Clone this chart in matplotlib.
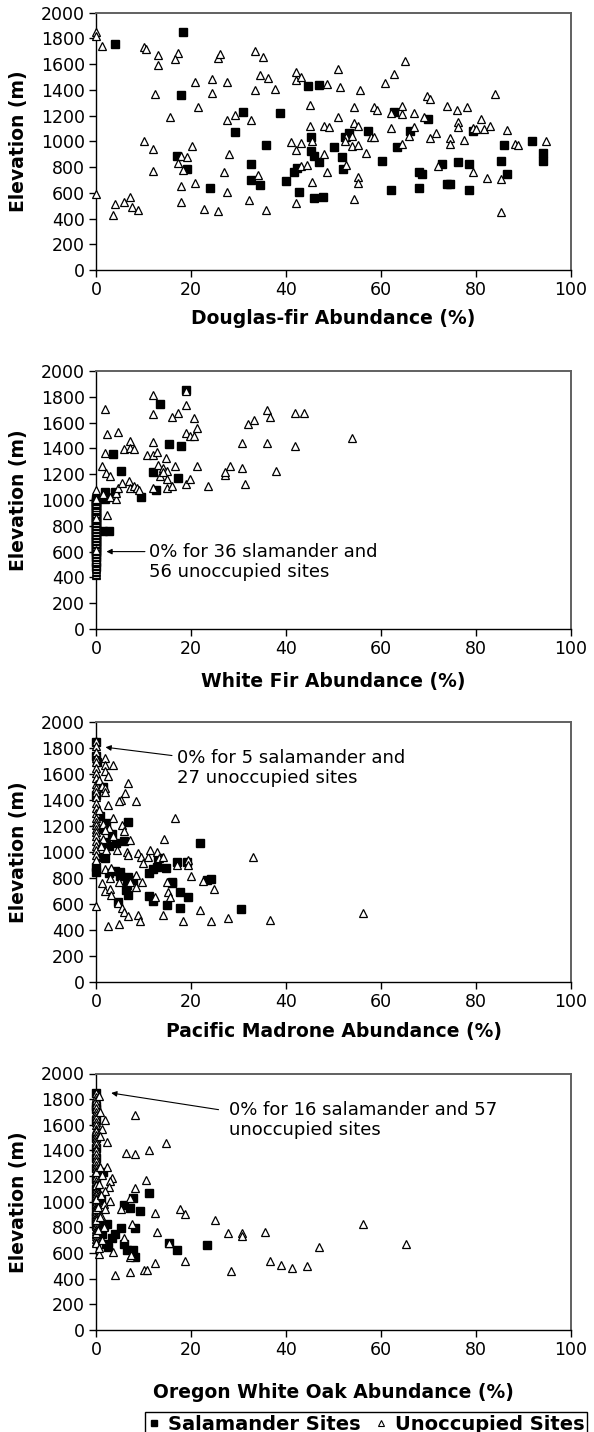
import matplotlib.pyplot as plt
from matplotlib.lines import Line2D

plt.rcParams['font.family'] = ['DejaVu Sans']

# ---- Douglas-fir (panel 1) ----
df_sal_x = [4.1, 18.4, 17.9, 17.0, 19.1, 23.9, 30.9, 29.2, 32.7, 32.7, 34.5, 35.8, 38.7, 39.9,
            41.6, 42.3, 42.8, 44.7, 47.0, 45.3, 45.3, 45.9, 47.0, 47.7, 45.9, 50.0, 51.7, 51.9,
            52.5, 53.2, 57.2, 60.3, 62.1, 62.7, 63.4, 66.2, 69.9, 68.1, 68.6, 68.1, 72.9, 73.9,
            74.5, 76.3, 78.6, 78.6, 79.4, 85.2, 85.9, 86.6, 91.8, 94.1, 94.1]
df_sal_y = [1753, 1852, 1358, 883, 787, 636, 1229, 1070, 826, 696, 662, 969, 1221, 694,
            764, 790, 605, 1429, 1436, 1034, 927, 888, 842, 566, 558, 956, 878, 783,
            1030, 1064, 1084, 848, 623, 1227, 955, 1084, 1172, 760, 745, 636, 822, 667,
            672, 838, 825, 623, 1084, 848, 970, 747, 1004, 908, 851]
df_uno_x = [0, 0, 1.3, 0, 3.6, 4.1, 5.9, 7.1, 7.6, 8.8, 10.1, 10.6, 13.1, 13.1, 12.4, 10.1,
            12.0, 12.0, 15.5, 17.2, 16.6, 17.9, 17.2, 19.2, 18.4, 17.9, 17.9, 20.2, 20.9, 21.4,
            20.9, 22.7, 24.4, 24.4, 25.7, 26.2, 25.7, 27.5, 27.5, 29.2, 28.0, 26.9, 27.5, 32.7,
            33.4, 35.2, 34.5, 36.3, 37.6, 33.4, 34.0, 32.2, 35.8,
            41.0, 42.0, 43.1, 42.0, 42.0, 43.1, 45.0, 45.0, 45.5, 43.1, 44.4, 45.5, 42.0, 47.9,
            49.1, 47.9, 48.6, 48.6, 50.9, 51.4, 55.5, 50.9, 52.6, 53.9, 52.5, 53.9, 55.1, 54.4,
            55.1, 54.4, 56.8, 52.6, 55.1, 55.1, 54.4, 58.5, 59.1, 57.9, 58.5, 60.9, 62.7, 65.0,
            62.1, 62.1, 64.4, 64.4, 66.9, 66.9, 65.8, 64.4, 69.1, 69.7, 70.4, 71.6, 70.4, 73.9,
            75.9, 78.1, 76.3, 76.3, 74.6, 74.6, 77.4, 72.1, 79.4, 80.1, 79.4, 81.0, 81.6, 82.9,
            82.3, 84.1, 86.5, 85.3, 85.3, 88.3, 88.8, 94.7]
df_uno_y = [1850, 1820, 1740, 590, 429, 514, 532, 566, 488, 468, 1732, 1714, 1675, 1592, 1369, 1000,
            943, 766, 1187, 1688, 1642, 888, 831, 878, 774, 655, 525, 961, 1460, 1268,
            675, 473, 1488, 1377, 1649, 1681, 462, 1460, 1169, 1208, 901, 761, 605, 1169,
            1701, 1655, 1514, 1494, 1408, 1397, 740, 545, 468,
            992, 934, 991, 1536, 1479, 1500, 1279, 1123, 999, 809, 817, 687, 524, 1123,
            1108, 903, 760, 1445, 1562, 1421, 1401, 1193, 1030, 1038, 999, 960, 973, 1141,
            1121, 1266, 913, 817, 721, 674, 550, 1266, 1245, 1030, 1030, 1453, 1525, 1621,
            1219, 1102, 1271, 1214, 1219, 1115, 1038, 978, 1193, 1354, 1331, 1064, 1025, 1271,
            1245, 1266, 1154, 1110, 1025, 978, 1012, 809, 1102, 1095, 760, 1172, 1095, 1121,
            713, 1370, 1090, 706, 454, 978, 973, 1006]

# ---- White fir (panel 2) ----
wf_sal_zero_y = [480, 520, 555, 580, 600, 615, 630, 645, 660, 672, 685, 700, 712, 725, 738, 750,
                 765, 778, 790, 805, 818, 830, 845, 858, 870, 885, 898, 910, 925, 938, 950,
                 962, 975, 985, 995, 1005]
wf_sal_x = [0] * len(wf_sal_zero_y) + [13.5, 15.3, 17.8, 3.5, 5.3, 11.9, 12.6, 17.2, 1.8, 1.8,
                                       4.0, 9.4, 1.5, 2.8, 18.9]
wf_sal_y = wf_sal_zero_y + [1744, 1434, 1421, 1357, 1225, 1220, 1078, 1168, 1065, 1005,
                            1060, 1026, 760, 760, 1850]
wf_uno_zero_y = [420, 428, 440, 452, 463, 475, 486, 497, 508, 520, 531, 543, 555, 566, 578, 590,
                 601, 612, 624, 636, 647, 658, 670, 681, 693, 705, 716, 727, 738, 750, 762,
                 773, 785, 796, 808, 820, 831, 842, 854, 866, 877, 888, 900, 912, 923, 934,
                 946, 958, 969, 980, 990, 998, 1005, 1010, 615, 860]
wf_uno_x = [0] * len(wf_uno_zero_y) + [
    1.9, 2.4, 4.7, 1.9, 1.2, 2.2, 2.9, 0.1, 1.5, 2.9, 2.4, 4.2, 4.2, 4.7, 5.4, 5.9, 7.2, 7.2,
    7.9, 7.0, 7.2, 8.0, 8.6, 9.1, 10.7, 11.9, 11.9, 11.9, 11.9, 12.8, 13.1, 14.7, 14.2, 16.6,
    13.5, 14.9, 14.9, 16.1, 14.9, 14.2, 11.9, 15.9, 17.3, 18.9, 18.9, 20.7, 21.2, 18.9, 19.8,
    20.7, 21.2, 18.9, 19.8, 23.6, 27.2, 28.3, 27.1, 30.8, 30.8, 31.4, 32.0, 33.2, 36.1, 36.6,
    36.1, 37.8, 41.8, 43.8, 41.8, 53.8]
wf_uno_y = wf_uno_zero_y + [
    1705, 1512, 1530, 1362, 1264, 1207, 1189, 1078, 1044, 1026, 884, 1005, 1052, 1096, 1134,
    1395, 1457, 1400, 1395, 1147, 1090, 1109, 1096, 1078, 1349, 1349, 1447, 1814, 1664, 1375,
    1271, 1323, 1245, 1264, 1189, 1163, 1090, 1111, 1225, 1214, 1096, 1646, 1677, 1736, 1848,
    1638, 1561, 1522, 1496, 1496, 1264, 1121, 1163, 1109, 1197, 1262, 1220, 1249, 1443, 1127,
    1591, 1619, 1697, 1645, 1443, 1223, 1676, 1671, 1417, 1477]

# ---- Pacific madrone (panel 3) ----
pm_sal_x = [0, 0, 0, 0, 0,
            6.8, 5.8, 4.2, 2.8, 2.2, 1.2, 1.0, 1.8, 2.8, 4.0, 5.1, 5.1, 6.8, 7.7, 6.5, 6.3, 6.8,
            4.7, 11.2, 12.1, 12.9, 14.7, 13.1, 11.2, 11.9, 14.9, 16.1, 17.7, 19.4, 17.7, 19.1,
            21.8, 23.3, 24.2, 30.6, 17.0, 16.0, 0.3, 1.4, 0.8, 2.0, 3.3, 1.5]
pm_sal_y = [1850, 1735, 1440, 887, 848,
            1229, 1085, 1067, 1046, 1075, 1054, 964, 951, 835, 856, 848, 817, 805, 784, 746, 707, 668,
            617, 835, 869, 882, 879, 951, 661, 622, 596, 758, 694, 656, 571, 920,
            1071, 787, 792, 560, 924, 766, 1690, 1500, 1280, 1220, 1140, 1180]
pm_uno_zero_y = [1856, 1812, 1770, 1720, 1690, 1650, 1610, 1570, 1520, 1490, 1465, 1420, 1380,
                 1340, 1300, 1260, 1230, 1208, 1180, 1157, 1120, 1085, 1050, 1015, 980, 940, 586]
pm_uno_x = [0] * len(pm_uno_zero_y) + [
    1.8, 1.8, 3.5, 1.9, 2.5, 0.7, 1.2, 1.8, 1.9, 2.5, 6.7, 6.0, 5.3, 4.9, 8.4, 0.7, 3.5, 1.5,
    2.8, 1.8, 5.4, 5.8, 3.5, 1.4, 7.2, 1.0, 2.2, 4.4, 6.5, 6.8, 8.9, 9.5, 9.8, 11.0, 11.4,
    12.8, 13.3, 14.2, 14.3, 16.6, 17.0, 19.4, 19.4, 20.0, 1.8, 3.1, 2.9, 4.9, 1.2, 1.9, 2.9,
    3.1, 7.2, 8.4, 9.6, 8.4, 4.7, 5.4, 5.8, 6.7, 8.9, 9.3, 14.2, 12.4, 14.9, 15.2, 15.6,
    18.4, 21.8, 2.5, 4.8, 22.5, 24.9, 24.3, 27.7, 33.1, 36.6, 56.3]
pm_uno_y = pm_uno_zero_y + [
    1722, 1671, 1666, 1625, 1581, 1555, 1509, 1496, 1458, 1362, 1530, 1452, 1401, 1393, 1396,
    1324, 1260, 1213, 1183, 1170, 1208, 1162, 1126, 1098, 1093, 1049, 1015, 1015, 1003, 977,
    990, 964, 913, 964, 1015, 1003, 956, 964, 1100, 1260, 900, 942, 898, 818, 869, 874, 797,
    771, 758, 702, 715, 668, 771, 823, 771, 733, 604, 566, 540, 509, 519, 468, 519, 656, 771,
    694, 656, 468, 555, 429, 450, 774, 717, 470, 495, 960, 477, 534]

# ---- Oregon white oak (panel 4) ----
ow_sal_zero_y = [1850, 1750, 1720, 1640, 1500, 1420, 1340, 1260, 1180, 1100, 1040, 980, 920,
                 880, 850, 820]
ow_sal_x = [0] * len(ow_sal_zero_y) + [
    11.1, 7.8, 5.8, 7.1, 9.3, 8.3, 5.3, 4.1, 3.4, 1.6, 0.9, 2.3, 1.3, 2.0, 2.5, 5.8, 6.5,
    7.8, 8.3, 15.3, 17.1, 23.4, 1.5, 1.0]
ow_sal_y = ow_sal_zero_y + [
    1067, 1033, 975, 954, 928, 792, 792, 750, 719, 810, 837, 829, 745, 672, 646, 667, 627,
    627, 567, 680, 620, 659, 1230, 1010]
ow_uno_zero_y = [1850, 1820, 1790, 1760, 1730, 1700, 1680, 1650, 1620, 1600, 1570, 1550, 1520,
                 1500, 1470, 1450, 1420, 1400, 1370, 1340, 1320, 1290, 1260, 1240, 1210, 1190,
                 1160, 1140, 1110, 1090, 1070, 1050, 1030, 1010, 990, 970, 950, 930, 910, 890,
                 870, 850, 830, 810, 790, 770, 750, 730, 710, 690, 680, 1230, 1130, 1020, 940,
                 860, 760]
ow_uno_x = [0] * len(ow_uno_zero_y) + [
    0.6, 0.9, 1.8, 1.3, 2.3, 0.8, 8.3, 6.4, 8.3, 11.1, 14.8, 2.3, 3.4, 2.9, 2.7, 1.8, 2.9,
    10.6, 8.3, 7.1, 5.3, 12.5, 17.6, 18.8, 7.6, 12.8, 5.8, 7.2, 7.4, 3.6, 0.6, 4.1, 7.1,
    10.0, 10.7, 12.5, 18.8, 15.3, 1.1, 1.6, 1.6, 0.8, 1.3, 0.6, 1.1, 0.5, 1.8, 0.9, 0.4,
    1.3, 0.6, 25.0, 27.8, 30.8, 30.8, 35.6, 28.4, 36.7, 38.9, 41.3, 44.5, 46.9, 56.3, 65.3]
ow_uno_y = ow_uno_zero_y + [
    1822, 1699, 1639, 1569, 1464, 1516, 1673, 1378, 1373, 1404, 1459, 1268, 1184, 1163, 1116,
    1085, 1007, 1169, 1106, 1033, 941, 915, 946, 902, 824, 766, 719, 567, 588, 609, 593, 431,
    452, 471, 471, 523, 536, 680, 889, 980, 803, 1270, 1210, 1140, 1050, 960, 940, 880, 780,
    700, 640, 855, 756, 758, 732, 763, 463, 541, 507, 481, 502, 646, 829, 667]

panels = [
    (df_sal_x, df_sal_y, df_uno_x, df_uno_y, "Douglas-fir Abundance (%)"),
    (wf_sal_x, wf_sal_y, wf_uno_x, wf_uno_y, "White Fir Abundance (%)"),
    (pm_sal_x, pm_sal_y, pm_uno_x, pm_uno_y, "Pacific Madrone Abundance (%)"),
    (ow_sal_x, ow_sal_y, ow_uno_x, ow_uno_y, "Oregon White Oak Abundance (%)"),
]

notes = [
    None,
    ("0% for 36 slamander and\n56 unoccupied sites", (11.2, 517), (2.2, 600), (10.3, 600)),
    ("0% for 5 salamander and\n27 unoccupied sites", (17.0, 1645), (2.0, 1806), (16.0, 1742)),
    ("0% for 16 salamander and 57\nunoccupied sites", (28.0, 1640), (3.2, 1848), (25.8, 1718)),
]

W, H = 594, 1432
fig = plt.figure(figsize=(W / 100, H / 100), dpi=100)

# axes boxes in pixels: (top, bottom), and x-label offset below the axes
boxes = [(12.7, 270), (371, 629), (722, 982), (1073.5, 1330)]
label_drop = [48, 52, 50, 62]
left, right = 96, 571

for (sx, sy, ux, uy, xlabel), (top, bottom), drop, note in zip(panels, boxes, label_drop, notes):
    ax = fig.add_axes([left / W, 1 - bottom / H, (right - left) / W, (bottom - top) / H])
    ax.plot(sx, sy, ls="none", marker="s", ms=5.4, color="black", clip_on=False, zorder=3)
    ax.plot(ux, uy, ls="none", marker="^", ms=5.6, mfc="white", mec="black", mew=0.9,
            clip_on=False, zorder=4)
    ax.set_xlim(0, 100)
    ax.set_ylim(0, 2000)
    ax.set_xticks(range(0, 101, 20))
    ax.set_yticks(range(0, 2001, 200))
    ax.tick_params(direction="out", length=5, width=1, labelsize=12.5, pad=3)
    for side in ["top", "right"]:
        ax.spines[side].set_color("#606060")
        ax.spines[side].set_linewidth(1.4)
    for side in ["left", "bottom"]:
        ax.spines[side].set_linewidth(1.0)
    axh = bottom - top
    ax.set_xlabel(xlabel, fontsize=13.5, fontweight="bold", va="center")
    ax.xaxis.set_label_coords(0.5, -drop / axh)
    ax.set_ylabel("Elevation (m)", fontsize=13.5, fontweight="bold", va="center")
    ax.yaxis.set_label_coords(-78 / (right - left), 0.5)

    if note is not None:
        text, tpos, head, tail = note
        ax.annotate("", xy=head, xytext=tail,
                    arrowprops=dict(arrowstyle="-|>", color="black", lw=0.8,
                                    mutation_scale=8, shrinkA=0, shrinkB=0))
        ax.text(tpos[0], tpos[1], text, fontsize=13, ha="left", va="center",
                linespacing=1.15)

handles = [
    Line2D([], [], ls="none", marker="s", ms=5, color="black"),
    Line2D([], [], ls="none", marker="^", ms=5, mfc="white", mec="black", mew=0.8),
]
leg = fig.legend(handles, ["Salamander Sites", "Unoccupied Sites"], loc="center",
                 bbox_to_anchor=(366 / W, 1 - 1424 / H), ncol=2, frameon=True,
                 fancybox=False, edgecolor="black", framealpha=1,
                 prop={"weight": "bold", "size": 14}, handlelength=0.7,
                 handletextpad=0.35, columnspacing=0.7, borderpad=0.15,
                 borderaxespad=0)
leg.get_frame().set_linewidth(1.0)

fig.savefig("out.png", dpi=100)
